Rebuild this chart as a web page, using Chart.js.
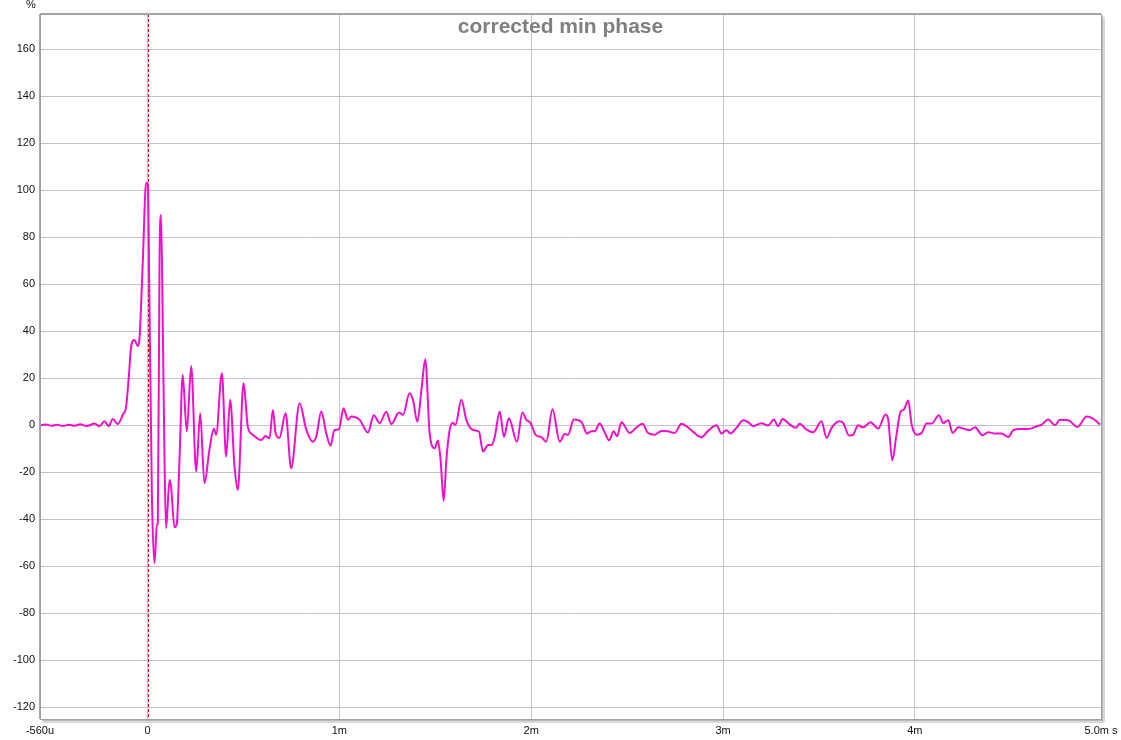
<!DOCTYPE html>
<html>
<head>
<meta charset="utf-8">
<title>corrected min phase</title>
<script src="https://cdn.jsdelivr.net/npm/chart.js@4.4.1/dist/chart.umd.min.js"></script>
<style>
  html, body { margin: 0; padding: 0; background: #fff; }
  #wrap { width: 1121px; height: 740px; position: relative; }
</style>
</head>
<body>
<div id="wrap"><canvas id="myChart" width="1121" height="740"></canvas></div>
<script>
// impulse response, time in ms, amplitude in %
const timesMs = [
  -0.56, -0.53, -0.50, -0.47, -0.44, -0.41, -0.38, -0.35, -0.32, -0.302,
  -0.276, -0.250, -0.224, -0.202, -0.181, -0.155, -0.129, -0.111, -0.097, -0.085,
  -0.068, -0.050, -0.042, -0.024, -0.007, 0.002, 0.010, 0.023, 0.037, 0.049,
  0.054, 0.063, 0.071, 0.080, 0.089, 0.097, 0.115, 0.123, 0.141, 0.153,
  0.167, 0.184, 0.205, 0.228, 0.254, 0.275, 0.297, 0.323, 0.346, 0.358,
  0.388, 0.410, 0.431, 0.454, 0.471, 0.501, 0.523, 0.549, 0.593, 0.615,
  0.636, 0.654, 0.668, 0.688, 0.720, 0.749, 0.793, 0.828, 0.862, 0.880,
  0.906, 0.932, 0.954, 0.975, 0.998, 1.022, 1.045, 1.062, 1.106, 1.149,
  1.180, 1.210, 1.245, 1.271, 1.311, 1.332, 1.366, 1.384, 1.407, 1.428,
  1.448, 1.471, 1.497, 1.514, 1.528, 1.544, 1.558, 1.575, 1.592, 1.605,
  1.636, 1.662, 1.688, 1.714, 1.728, 1.749, 1.775, 1.793, 1.810, 1.836,
  1.858, 1.884, 1.926, 1.954, 1.975, 1.996, 2.023, 2.053, 2.079, 2.111,
  2.149, 2.175, 2.192, 2.222, 2.262, 2.291, 2.314, 2.331, 2.357, 2.383,
  2.406, 2.430, 2.448, 2.470, 2.514, 2.549, 2.580, 2.609, 2.644, 2.679,
  2.713, 2.748, 2.783, 2.809, 2.844, 2.888, 2.922, 2.966, 2.992, 3.018,
  3.039, 3.070, 3.105, 3.131, 3.157, 3.200, 3.235, 3.265, 3.287, 3.310,
  3.348, 3.379, 3.400, 3.435, 3.470, 3.513, 3.540, 3.566, 3.605, 3.626,
  3.657, 3.678, 3.704, 3.730, 3.769, 3.809, 3.847, 3.861, 3.882, 3.904,
  3.925, 3.943, 3.965, 3.983, 4.009, 4.035, 4.061, 4.087, 4.125, 4.148,
  4.174, 4.197, 4.226, 4.261, 4.287, 4.313, 4.353, 4.382, 4.417, 4.452,
  4.487, 4.513, 4.548, 4.591, 4.635, 4.661, 4.695, 4.730, 4.756, 4.800,
  4.847, 4.895, 4.930, 4.965
];
const amplitudePct = [
  0, 0.3, -0.2, 0.2, -0.3, 0.2, -0.2, 0.4, -0.3, 0,
  0.7, -0.4, 1.7, -0.4, 2.7, 0.5, 4.4, 8, 20.7, 33.5,
  36.3, 33.7, 36.3, 70, 103.2, 102.5, 56, -28.9, -58.7, -42.4,
  -42, 70, 89.5, 42, -14.8, -43.8, -23.3, -26, -43.4, -42,
  -14.8, 21.4, -2.7, 25.2, -19.7, 5.1, -24.7, -10.5, -1.5, -4,
  22.1, -13.4, 10.8, -17.7, -27.5, 17.9, -0.6, -4, -6.3, -4.6,
  -5.5, 6.5, -3.4, -5.4, 5.1, -18.3, 9.4, -2, -7, -4.8,
  5.8, -3.4, -8.7, -2, -1.7, 7.2, 2.3, 3.7, 2.3, -3.1,
  4.3, 0.9, 5.7, 0.5, 5.4, 4.4, 13.6, 10.8, 1.5, 15,
  28.1, -3.4, -9.8, -6.5, -14.8, -32.1, -14.8, -2, 1.1, 0.1,
  10.8, 2.3, -1.6, -2.3, -2.7, -11.2, -8.4, -8.4, -5.1, 5.8,
  -4.9, 3, -7, 5.4, 2.3, 1.1, -4.1, -5.1, -7, 6.8,
  -7, -3.7, -4.1, 2.4, 1.4, -3.5, -2.6, -2.6, 0.7, -3,
  -6.4, -2.6, -4.7, 1.3, -3.3, -0.9, 0.6, -3.3, -4, -2.4,
  -2.6, -3.3, 0.6, -0.4, -2.8, -5.1, -2.4, 0, -3.5, -2.1,
  -3.5, -1.1, 2.1, 1.3, -0.4, 0.9, -0.1, 2.4, -0.4, 2.7,
  0.3, -1.1, 0.6, -1.9, -3, 1.7, -5.4, -1.1, 1.7, 1,
  -4.4, -4, 0, -0.9, 1.3, -1.4, 4.6, 2.4, -14.9, -4,
  5.7, 6.7, 10.5, 0.3, -4, -3.3, 0.7, 0.7, 4.3, 1,
  2.1, -3.3, -0.9, -1.6, -2.1, -0.9, -4.3, -3, -3.5, -3.5,
  -5, -2.1, -1.6, -1.6, -0.4, 0.3, 2.4, 0, 2.3, 2.1,
  -0.7, 3.7, 2.7, 0.3
];

const xTickValues = [-0.56, 0, 1, 2, 3, 4, 4.97];
const xTickLabels = ['-560u', '0', '1m', '2m', '3m', '4m', '5.0m s'];
const yTickValues = [-120, -100, -80, -60, -40, -20, 0, 20, 40, 60, 80, 100, 120, 140, 160];
const markerTimes = [0];

const chartTitle = 'corrected min phase';
const unitLabel = '%';

const points = timesMs.map((t, i) => ({ x: t, y: amplitudePct[i] }));

// frame, red time marker, title and unit label
const decorPlugin = {
  id: 'decor',
  beforeDatasetsDraw(chart) {
    const { ctx, chartArea: a, scales } = chart;
    ctx.save();
    ctx.font = 'bold 21px "Liberation Sans", Arial, sans-serif';
    ctx.fillStyle = '#7f7f7f';
    ctx.textAlign = 'center';
    ctx.textBaseline = 'alphabetic';
    ctx.fillText(chartTitle, chart.width / 2, 33);

    ctx.strokeStyle = '#d00000';
    ctx.lineWidth = 1;
    ctx.setLineDash([3, 2]);
    markerTimes.forEach(t => {
      const px = Math.ceil(scales.x.getPixelForValue(t)) + 0.5;
      ctx.beginPath();
      ctx.moveTo(px, a.top);
      ctx.lineTo(px, a.bottom);
      ctx.stroke();
    });
    ctx.restore();
  },
  afterDraw(chart) {
    const { ctx, chartArea: a } = chart;
    ctx.save();
    // shadow on right and bottom
    ctx.fillStyle = '#d8d8d8';
    ctx.fillRect(a.right + 1, a.top + 3, 3, a.bottom - a.top);
    ctx.fillRect(a.left + 3, a.bottom + 1, a.right - a.left, 3);
    ctx.fillStyle = '#b8b8b8';
    ctx.fillRect(a.right + 1, a.top + 2, 1, a.bottom - a.top);
    ctx.fillRect(a.left + 2, a.bottom + 1, a.right - a.left, 1);
    // frame
    ctx.strokeStyle = '#a0a0a0';
    ctx.lineWidth = 1;
    ctx.strokeRect(Math.round(a.left) + 0.5, Math.round(a.top) + 0.5,
      Math.round(a.right - a.left), Math.round(a.bottom - a.top));
    ctx.fillStyle = '#a8a8a8';
    ctx.fillRect(a.left, a.top - 1, a.right - a.left, 1);
    ctx.fillRect(a.left - 1, a.top, 1, a.bottom - a.top);

    ctx.font = '11px "Liberation Sans", Arial, sans-serif';
    ctx.fillStyle = '#111';
    ctx.textAlign = 'center';
    ctx.textBaseline = 'middle';
    ctx.fillText(unitLabel, 31, 5);
    ctx.restore();
  }
};

new Chart(document.getElementById('myChart'), {
  type: 'line',
  data: {
    datasets: [{
      data: points,
      borderColor: '#f010cc',
      borderWidth: 2,
      pointRadius: 0,
      fill: false,
      cubicInterpolationMode: 'monotone'
    }]
  },
  options: {
    responsive: false,
    animation: false,
    layout: { padding: { top: 14, right: 20, left: 0, bottom: 0 } },
    plugins: {
      legend: { display: false },
      title: { display: false },
      tooltip: { enabled: false }
    },
    scales: {
      x: {
        type: 'linear',
        min: -0.56,
        max: 4.97,
        afterBuildTicks: scale => { scale.ticks = xTickValues.map(v => ({ value: v })); },
        afterFit: scale => {
          scale.height = 21;
          scale.paddingLeft = 0;
          scale.paddingRight = 0;
        },
        border: { display: false },
        grid: { color: '#c4c4c4', lineWidth: 1, drawTicks: false },
        ticks: {
          autoSkip: false,
          maxRotation: 0,
          padding: 5,
          color: '#111',
          font: { family: '"Liberation Sans", Arial, sans-serif', size: 11 },
          callback: v => {
            const i = xTickValues.indexOf(v);
            return i >= 0 ? xTickLabels[i] : '';
          }
        }
      },
      y: {
        min: -125,
        max: 175,
        afterBuildTicks: scale => { scale.ticks = yTickValues.map(v => ({ value: v })); },
        afterFit: scale => {
          scale.width = 40;
          scale.paddingTop = 0;
          scale.paddingBottom = 0;
        },
        border: { display: false },
        grid: { color: '#c4c4c4', lineWidth: 1, drawTicks: false },
        ticks: {
          autoSkip: false,
          padding: 5,
          color: '#111',
          font: { family: '"Liberation Sans", Arial, sans-serif', size: 11 }
        }
      }
    }
  },
  plugins: [decorPlugin]
});
</script>
</body>
</html>
